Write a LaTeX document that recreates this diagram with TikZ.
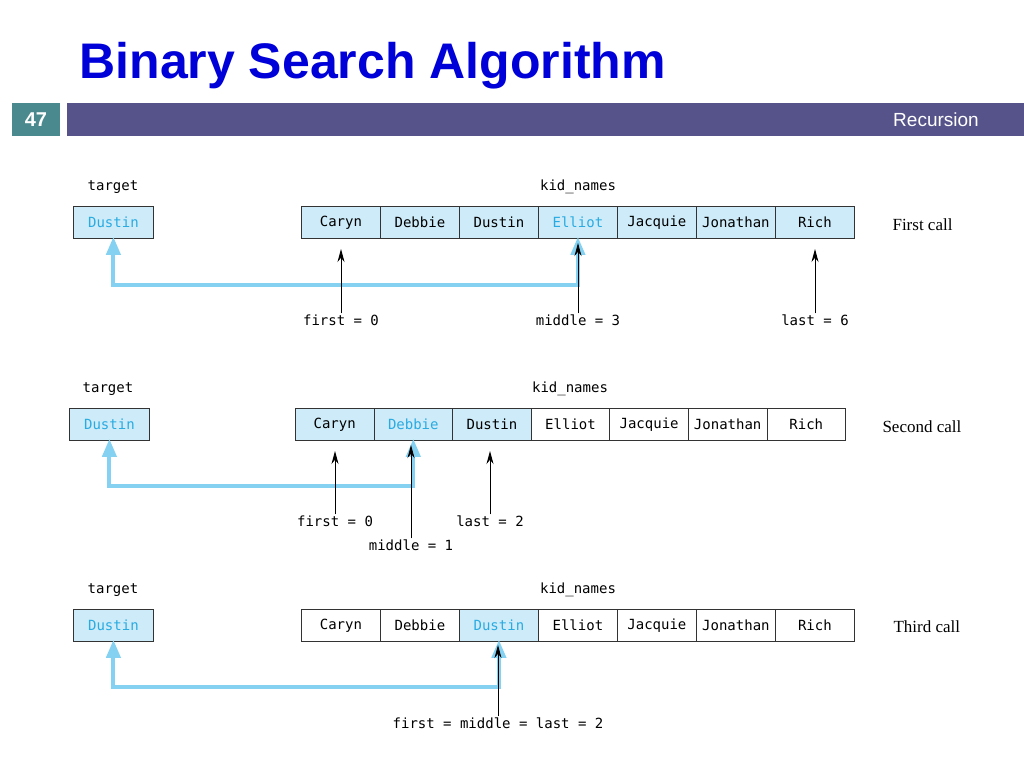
\documentclass[tikz,border=0pt]{standalone}
\usepackage{fontspec}
\setmainfont{Liberation Serif}
\newfontfamily\sans{Liberation Sans}
\newfontfamily\mono{DejaVu Sans Mono}
\usetikzlibrary{arrows.meta}
\definecolor{teal}{HTML}{4A8A8E}
\definecolor{bar}{HTML}{55538A}
\definecolor{lb}{HTML}{CDEBF8}
\definecolor{bt}{HTML}{29ABE2}
\definecolor{ba}{HTML}{85D1F2}
\begin{document}
\begin{tikzpicture}[x=1pt,y=-1pt,
  cell/.style={draw=black!80,line width=0.8pt,minimum height=32pt,inner sep=0pt,font=\mono\fontsize{14}{14}\selectfont,anchor=north west},
  lbl/.style={font=\mono\fontsize{14}{14}\selectfont,inner sep=1pt},
  call/.style={font=\fontsize{17}{17}\selectfont,anchor=west},
  blue arrow/.style={draw=ba,line width=4pt,{Triangle[length=18pt,width=14pt]}-{Triangle[length=18pt,width=14pt]}},
  black arrow/.style={draw=black,line width=0.9pt,-{Stealth[length=13pt,width=7pt]}}]
\useasboundingbox (0,0) rectangle (1024,768);
\node[font=\sans\bfseries\fontsize{50}{50}\selectfont,text=blue!85!black,anchor=west] (title) at (76,66) {Binary Search Algorithm};
\fill[teal] (12,103) rectangle (60,136);
\node[font=\sans\bfseries\fontsize{20}{20}\selectfont,text=white] (num) at (36,120) {47};
\fill[bar] (67,103) rectangle (1024,136);
\node[font=\sans\fontsize{19}{19}\selectfont,text=white] (rec) at (936,120) {Recursion};
\def\names{{"Caryn","Debbie","Dustin","Elliot","Jacquie","Jonathan","Rich"}}
% row 1
\node[lbl] (t1l) at (113,187) {target};
\node[lbl] (k1l) at (578,187) {kid\_names};
\node[cell,fill=lb,text=bt,minimum width=80pt] (t1) at (73,206) {Dustin};
\foreach \i in {0,...,6}{
  \pgfmathsetmacro\nm{\names[\i]}
  \ifnum\i=3 \node[cell,fill=lb,text=bt,minimum width=79pt] (a1\i) at (301+79*\i,206) {\nm};
  \else \node[cell,fill=lb,minimum width=79pt] (a1\i) at (301+79*\i,206) {\nm};\fi}
\node[call] (c1) at (889,225) {First call};
\node[lbl] (f1) at (341,320) {first = 0};
\node[lbl] (m1) at (578,320) {middle = 3};
\node[lbl] (l1) at (815,320) {last = 6};
\draw[blue arrow] ([yshift=2pt]a13.south) -- ++(0,48) -| ([yshift=2pt]t1.south);
\draw[black arrow] (f1.north) -- (f1.north |- 0,249);
\draw[black arrow] (m1.north) -- (m1.north |- 0,243);
\draw[black arrow] (l1.north) -- (l1.north |- 0,249);
% row 2
\node[lbl] (t2l) at (108,389) {target};
\node[lbl] (k2l) at (570,389) {kid\_names};
\node[cell,fill=lb,text=bt,minimum width=80pt] (t2) at (69,408) {Dustin};
\foreach \i in {0,...,6}{
  \pgfmathsetmacro\nm{\names[\i]}
  \ifnum\i=1 \node[cell,fill=lb,text=bt,minimum width=78.6pt] (a2\i) at (295+78.6*\i,408) {\nm};
  \else\ifnum\i<3 \node[cell,fill=lb,minimum width=78.6pt] (a2\i) at (295+78.6*\i,408) {\nm};
  \else \node[cell,fill=white,minimum width=78.6pt] (a2\i) at (295+78.6*\i,408) {\nm};\fi\fi}
\node[call] (c2) at (879,427) {Second call};
\node[lbl] (f2) at (335,521) {first = 0};
\node[lbl] (l2) at (490,521) {last = 2};
\node[lbl] (m2) at (411,545) {middle = 1};
\draw[blue arrow] ([yshift=2pt]a21.south) -- ++(0,47) -| ([yshift=2pt]t2.south);
\draw[black arrow] (f2.north) -- (f2.north |- 0,451);
\draw[black arrow] (l2.north) -- (l2.north |- 0,451);
\draw[black arrow] (m2.north) -- (m2.north |- 0,445);
% row 3
\node[lbl] (t3l) at (113,590) {target};
\node[lbl] (k3l) at (578,590) {kid\_names};
\node[cell,fill=lb,text=bt,minimum width=80pt] (t3) at (73,609) {Dustin};
\foreach \i in {0,...,6}{
  \pgfmathsetmacro\nm{\names[\i]}
  \ifnum\i=2 \node[cell,fill=lb,text=bt,minimum width=79pt] (a3\i) at (301+79*\i,609) {\nm};
  \else \node[cell,fill=white,minimum width=79pt] (a3\i) at (301+79*\i,609) {\nm};\fi}
\node[call] (c3) at (890,627) {Third call};
\node[lbl] (f3) at (498,723) {first = middle = last = 2};
\draw[blue arrow] ([yshift=2pt]a32.south) -- ++(0,47) -| ([yshift=2pt]t3.south);
\draw[black arrow] (f3.north) -- (f3.north |- 0,645);
\end{tikzpicture}
\end{document}
